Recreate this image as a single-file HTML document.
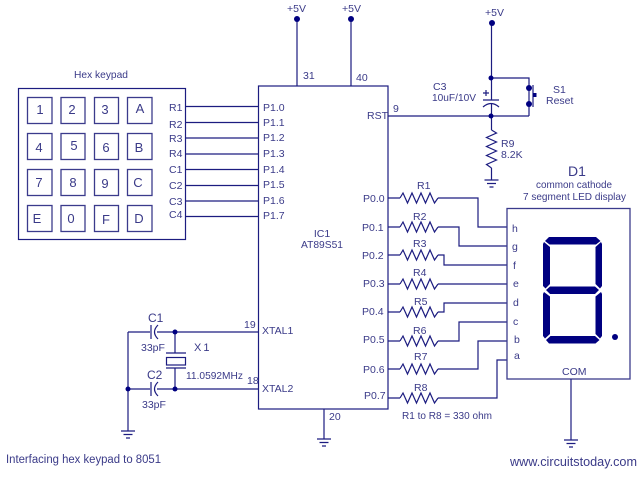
<!DOCTYPE html>
<html><head><meta charset="utf-8"><style>
html,body{margin:0;padding:0;background:#fff}
svg{display:block}
text{font-family:"Liberation Sans",sans-serif;font-size:10.5px;fill:#3a3a88}
.k{font-size:13px;text-anchor:middle}
.w{fill:none;stroke:#1c1c80;stroke-width:1.2}
.b{fill:none;stroke:#3b3b8c;stroke-width:1.3}
.n{fill:#000080}
</style></head><body>
<svg width="640" height="480" viewBox="0 0 640 480" xmlns="http://www.w3.org/2000/svg">
<defs>
<polyline id="r" class="w" points="0,0 3,-5 7.5,5 12,-5 16.5,5 21,-5 25.5,5 30,-5 34.5,5 38,0"/>
<path id="g" class="w" d="M0,0V2M-7,2H7M-4.5,5.5H4.5M-2,9H2"/>
</defs>
<rect width="640" height="480" fill="#fff"/>

<!-- keypad -->
<rect x="18.5" y="88.5" width="167" height="151" class="w"/>
<g class="b">
<rect x="27.5" y="97.5" width="24.500" height="26"/><rect x="61" y="97.5" width="24" height="26"/><rect x="94.500" y="97.5" width="24" height="26"/><rect x="127.500" y="97.5" width="24.500" height="26"/>
<rect x="27.5" y="133.500" width="24.500" height="26"/><rect x="61" y="133.500" width="24" height="26"/><rect x="94.500" y="133.500" width="24" height="26"/><rect x="127.500" y="133.500" width="24.500" height="26"/>
<rect x="27.5" y="169.500" width="24.500" height="26"/><rect x="61" y="169.500" width="24" height="26"/><rect x="94.500" y="169.500" width="24" height="26"/><rect x="127.500" y="169.500" width="24.500" height="26"/>
<rect x="27.5" y="205.500" width="24.500" height="26"/><rect x="61" y="205.500" width="24" height="26"/><rect x="94.500" y="205.500" width="24" height="26"/><rect x="127.500" y="205.500" width="24.500" height="26"/>
</g>
<text x="74" y="78" textLength="54" lengthAdjust="spacingAndGlyphs">Hex keypad</text>
<text class="k" x="40" y="114">1</text><text class="k" x="72" y="114">2</text><text class="k" x="105" y="114">3</text><text class="k" x="140" y="113">A</text>
<text class="k" x="39" y="152">4</text><text class="k" x="74" y="150">5</text><text class="k" x="106" y="152">6</text><text class="k" x="139" y="152">B</text>
<text class="k" x="39" y="187">7</text><text class="k" x="73" y="187">8</text><text class="k" x="105" y="188">9</text><text class="k" x="138" y="187">C</text>
<text class="k" x="37" y="223">E</text><text class="k" x="71" y="223">0</text><text class="k" x="106" y="224">F</text><text class="k" x="139" y="223">D</text>

<text x="169" y="111">R1</text><text x="169" y="128">R2</text><text x="169" y="142">R3</text><text x="169" y="157">R4</text>
<text x="169" y="173">C1</text><text x="169" y="189">C2</text><text x="169" y="205">C3</text><text x="169" y="218">C4</text>
<path class="w" d="M185,106.500H258M185,122.500H258M185,138H258M185,154H258M185,169.500H258M185,185.500H258M185,201H258M185,216.500H258"/>

<!-- IC -->
<rect x="258.500" y="86" width="129.500" height="323" class="w"/>
<text x="263" y="111">P1.0</text><text x="263" y="126">P1.1</text><text x="263" y="141">P1.2</text><text x="263" y="157">P1.3</text>
<text x="263" y="173">P1.4</text><text x="263" y="188">P1.5</text><text x="263" y="204">P1.6</text><text x="263" y="219">P1.7</text>
<text x="322" y="237" text-anchor="middle">IC1</text><text x="322" y="248" text-anchor="middle" textLength="42" lengthAdjust="spacingAndGlyphs">AT89S51</text>
<text x="262" y="334">XTAL1</text><text x="262" y="392">XTAL2</text>
<text x="367" y="119">RST</text><text x="393" y="112">9</text>
<text x="303" y="79">31</text><text x="356" y="81">40</text>
<text x="244" y="328">19</text><text x="247" y="384">18</text><text x="329" y="420">20</text>

<!-- power -->
<path class="w" d="M297,19V86M351,19V86M491.500,23V100M491.500,78H529V116M388,116H529M491.500,104V130M491.500,168V178"/>
<circle class="n" cx="297" cy="19" r="3"/><circle class="n" cx="351" cy="19" r="3"/><circle class="n" cx="492" cy="23" r="3"/>
<text x="287" y="12">+5V</text><text x="342" y="12">+5V</text><text x="485" y="16">+5V</text>
<circle class="n" cx="491" cy="78" r="2.500"/><circle class="n" cx="491" cy="116" r="2.500"/>
<!-- switch -->
<circle class="n" cx="529" cy="88" r="3"/><circle class="n" cx="529" cy="104" r="3"/>
<path class="w" d="M533,85V107"/><rect class="n" x="533" y="93" width="3.500" height="4"/>
<text x="553" y="93">S1</text><text x="546" y="104">Reset</text>
<!-- C3 -->
<path class="w" d="M483,100H499M483,107Q491,100 499,107M483,93H489M486,90V96"/>
<text x="433" y="90">C3</text><text x="432" y="101" textLength="44" lengthAdjust="spacingAndGlyphs">10uF/10V</text>
<!-- R9 -->
<use href="#r" transform="translate(491.500,130) rotate(90)"/>
<use href="#g" transform="translate(491.500,178)"/>
<text x="501" y="147">R9</text><text x="501" y="158">8.2K</text>

<!-- P0 -->
<text x="363" y="202">P0.0</text><text x="362" y="231">P0.1</text><text x="362" y="259">P0.2</text><text x="363" y="287">P0.3</text>
<text x="362" y="315">P0.4</text><text x="363" y="343">P0.5</text><text x="363" y="373">P0.6</text><text x="364" y="399">P0.7</text>
<use href="#r" x="400" y="198"/><use href="#r" x="400" y="227"/><use href="#r" x="400" y="255"/><use href="#r" x="400" y="284"/>
<use href="#r" x="400" y="312"/><use href="#r" x="400" y="341"/><use href="#r" x="400" y="369"/><use href="#r" x="400" y="398"/>
<path class="w" d="M388,198H400M388,227H400M388,255H400M388,284H400M388,312H400M388,341H400M388,369H400M388,398H400"/>
<path class="w" d="M438,198H478V227H507M438,227H459V246H507M438,255H444V265H507M438,284H507M438,312H444V303H507M438,341H459V322H507M438,369H478V341H507M438,398H497V360H507"/>
<text x="417" y="189">R1</text><text x="413" y="220">R2</text><text x="413" y="247">R3</text><text x="413" y="276">R4</text>
<text x="414" y="305">R5</text><text x="413" y="334">R6</text><text x="414" y="360">R7</text><text x="414" y="391">R8</text>
<text x="402" y="419" textLength="90" lengthAdjust="spacingAndGlyphs">R1 to R8 = 330 ohm</text>

<!-- display -->
<rect x="507" y="208.500" width="123" height="170.500" class="b"/>
<text x="568" y="176" style="font-size:14px">D1</text>
<text x="536" y="188" textLength="76" lengthAdjust="spacingAndGlyphs">common cathode</text>
<text x="523" y="200" textLength="103" lengthAdjust="spacingAndGlyphs">7 segment LED display</text>
<g style="font-size:11.500px"><text x="512" y="232">h</text><text x="512" y="250">g</text><text x="513" y="269">f</text><text x="513" y="287">e</text><text x="513" y="306">d</text><text x="513" y="325">c</text><text x="514" y="343">b</text><text x="514" y="359">a</text></g>
<text x="562" y="375">COM</text>
<g class="n">
<polygon points="549,237 596,237 600.500,241 596,244.500 549.500,244.500 545,241"/>
<polygon points="544,242 550,247 550,284 545.500,288.500 543,286 543,244"/>
<polygon points="601,242 595.500,247 595.500,284 600,288.500 602,286 602,244"/>
<polygon points="550,286.500 595,286.500 599,290 595,294 550,294 546,290"/>
<polygon points="544,292 550,296.500 550,334 545,338.500 543,336 543,294"/>
<polygon points="601,292 595.500,296.500 595.500,334 600,338.500 602,336 602,294"/>
<polygon points="550.500,336 595,336 599.500,340 595.500,343.500 549,343.500 546,340"/>
<circle cx="615" cy="337" r="3"/>
</g>
<path class="w" d="M571,379V438"/><use href="#g" transform="translate(571,438)"/>

<!-- crystal -->
<path class="w" d="M128,332V429M128,332H150M157,332H258M128,389H150M157,389H258M175,332V353M175,368V389"/>
<path class="w" d="M151,325V339M158,325Q151,332 158,339M151,382V396M158,382Q151,389 158,396"/>
<path class="w" d="M166,353H186M166,368H186"/><rect x="166.500" y="357.500" width="19" height="7.500" class="w"/>
<circle class="n" cx="128" cy="389" r="2.500"/><circle class="n" cx="175" cy="332" r="2.500"/><circle class="n" cx="175" cy="389" r="2.500"/>
<use href="#g" transform="translate(128,429)"/>
<path class="w" d="M324,409V437"/><use href="#g" transform="translate(324,437)"/>
<text x="148" y="322" style="font-size:12px">C1</text><text x="141" y="351">33pF</text>
<text x="194" y="351" style="font-size:11px;letter-spacing:2px">X1</text>
<text x="186" y="379" textLength="57" lengthAdjust="spacingAndGlyphs">11.0592MHz</text>
<text x="147" y="379" style="font-size:12px">C2</text><text x="142" y="408">33pF</text>

<text x="6" y="463" style="font-size:11.500px" textLength="155" lengthAdjust="spacingAndGlyphs">Interfacing hex keypad to 8051</text>
<text x="510" y="466" style="font-size:12.500px" textLength="127" lengthAdjust="spacingAndGlyphs">www.circuitstoday.com</text>
</svg>
</body></html>
